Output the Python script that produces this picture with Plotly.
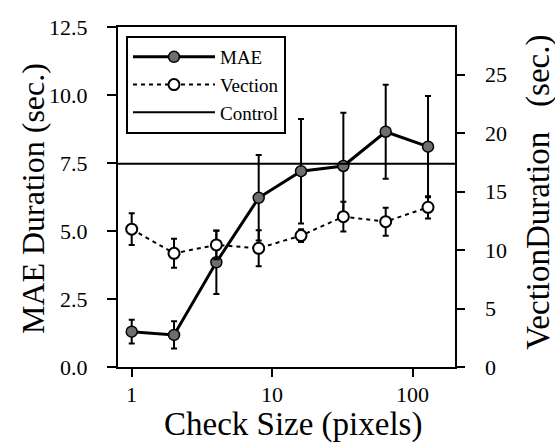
import plotly.graph_objects as go
import math

check_size = [1, 2, 4, 8, 16, 32, 64, 128]
mae = [1.30, 1.18, 3.85, 6.22, 7.20, 7.39, 8.65, 8.10]
mae_err = [0.44, 0.50, 1.17, 1.57, 1.92, 1.96, 1.73, 1.86]
vection = [11.8, 9.73, 10.45, 10.16, 11.25, 12.87, 12.44, 13.67]
vection_err = [1.35, 1.24, 1.22, 1.54, 0.55, 1.28, 1.20, 0.95]
control = 7.47

left_ticks = [0, 2.5, 5, 7.5, 10, 12.5]
left_ticklabels = ["0.0", "2.5", "5.0", "7.5", "10.0", "12.5"]
right_ticks = [0, 5, 10, 15, 20, 25]
right_ticklabels = ["0", "5", "10", "15", "20", "25"]
x_ticks = [1, 10, 100]
x_ticklabels = ["1", "10", "100"]

FONT = "'Liberation Serif', 'Times New Roman', 'DejaVu Serif', serif"

fig = go.Figure()

fig.add_trace(go.Scatter(
    x=check_size, y=mae, name="MAE", mode="lines+markers",
    line=dict(color="black", width=3),
    marker=dict(symbol="circle", size=11, color="#6e6e6e", line=dict(color="black", width=1.5)),
    error_y=dict(type="data", array=mae_err, visible=True, color="black", thickness=2, width=3),
))
fig.add_trace(go.Scatter(
    x=check_size, y=vection, yaxis="y2", name="Vection", mode="lines+markers",
    line=dict(color="black", width=2, dash="4px,4px"),
    marker=dict(symbol="circle", size=11, color="white", line=dict(color="black", width=2)),
    error_y=dict(type="data", array=vection_err, visible=True, color="black", thickness=2, width=3),
))
fig.add_trace(go.Scatter(
    x=[None], y=[None], name="Control", mode="lines",
    line=dict(color="black", width=2),
))
fig.add_hline(y=control, line=dict(color="black", width=2))

fig.update_layout(
    width=555, height=445,
    margin=dict(l=118, r=100, t=27, b=78),
    paper_bgcolor="white", plot_bgcolor="white",
    font=dict(family=FONT, color="black", size=21),
    showlegend=True,
    legend=dict(
        x=0.0237, y=0.9735, xanchor="left", yanchor="top",
        bordercolor="black", borderwidth=2, bgcolor="white",
        font=dict(family=FONT, size=19, color="black"),
        traceorder="normal", itemwidth=82, tracegroupgap=0,
    ),
    xaxis=dict(
        type="log", range=[-0.0974, 2.299],
        tickvals=x_ticks, showticklabels=False,
        ticks="outside", ticklen=8, tickwidth=2, tickcolor="black",
        showline=True, linecolor="black", linewidth=2, mirror=True,
        showgrid=False, zeroline=False,
    ),
    yaxis=dict(
        range=[0, 12.5], tickvals=left_ticks, showticklabels=False,
        ticks="outside", ticklen=9, tickwidth=2, tickcolor="black",
        showline=True, linecolor="black", linewidth=2,
        showgrid=False, zeroline=False,
    ),
    yaxis2=dict(
        overlaying="y", side="right", range=[0, 29.1],
        tickvals=right_ticks, showticklabels=False,
        ticks="outside", ticklen=8, tickwidth=2, tickcolor="black",
        showline=True, linecolor="black", linewidth=2,
        showgrid=False, zeroline=False,
    ),
)

tick_font = dict(family=FONT, size=22, color="black")
for v, t in zip(left_ticks, left_ticklabels):
    fig.add_annotation(text=t, xref="paper", yref="y", x=-0.083, y=v,
                       xanchor="right", yanchor="middle", showarrow=False, font=tick_font)
for v, t in zip(right_ticks, right_ticklabels):
    fig.add_annotation(text=t, xref="paper", yref="y2", x=1.083, y=v,
                       xanchor="left", yanchor="middle", showarrow=False, font=tick_font)
for v, t in zip(x_ticks, x_ticklabels):
    fig.add_annotation(text=t, xref="x", yref="paper", x=math.log10(v), y=-0.082,
                       xanchor="center", yanchor="middle", showarrow=False, font=tick_font)

fig.add_annotation(text="Check Size (pixels)", xref="paper", yref="paper",
                   x=0.519, y=-0.17, xanchor="center", yanchor="middle",
                   showarrow=False, font=dict(family=FONT, size=33))
fig.add_annotation(text="MAE Duration (sec.)", xref="paper", yref="paper",
                   x=-0.252, y=0.494, xanchor="center", yanchor="middle", textangle=-90,
                   showarrow=False, font=dict(family=FONT, size=32))
fig.add_annotation(text="VectionDuration&nbsp;&nbsp;&nbsp;(sec.)", xref="paper", yref="paper",
                   x=1.249, y=0.515, xanchor="center", yanchor="middle", textangle=-90,
                   showarrow=False, font=dict(family=FONT, size=33))

fig.write_html("out.html")
